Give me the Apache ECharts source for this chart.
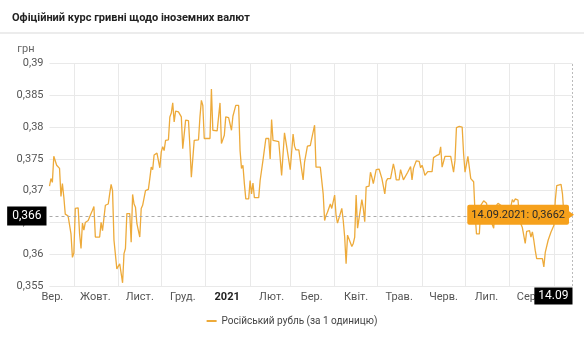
<!DOCTYPE html>
<html><head><meta charset="utf-8">
<script src="https://cdn.jsdelivr.net/npm/echarts@6/dist/echarts.min.js"></script>
<style>html,body{margin:0;padding:0;background:#fff}#c{width:584px;height:350px}</style>
</head><body><div id="c"></div>
<script>
// ---- data ----
const dates = [
'2020-09-14','2020-09-15','2020-09-16','2020-09-17','2020-09-19','2020-09-21','2020-09-22','2020-09-23','2020-09-24','2020-09-25',
'2020-09-27','2020-09-28','2020-09-29','2020-09-30','2020-10-01','2020-10-02','2020-10-04','2020-10-05','2020-10-06','2020-10-07',
'2020-10-08','2020-10-09','2020-10-11','2020-10-13','2020-10-14','2020-10-15','2020-10-16','2020-10-19','2020-10-20','2020-10-21',
'2020-10-23','2020-10-25','2020-10-26','2020-10-27','2020-10-28','2020-10-29','2020-10-31','2020-11-01','2020-11-02','2020-11-04',
'2020-11-05','2020-11-06','2020-11-07','2020-11-09','2020-11-10','2020-11-11','2020-11-12','2020-11-13','2020-11-14','2020-11-15',
'2020-11-16','2020-11-17','2020-11-18','2020-11-20','2020-11-22','2020-11-23','2020-11-24','2020-11-25','2020-11-26','2020-11-28',
'2020-11-29','2020-11-30','2020-12-01','2020-12-02','2020-12-03','2020-12-04','2020-12-06','2020-12-07','2020-12-08','2020-12-09',
'2020-12-10','2020-12-11','2020-12-13','2020-12-15','2020-12-16','2020-12-18','2020-12-20','2020-12-21','2020-12-22','2020-12-24',
'2020-12-27','2020-12-28','2020-12-29','2020-12-30','2020-12-31','2021-01-04','2021-01-05','2021-01-06','2021-01-09','2021-01-11',
'2021-01-12','2021-01-14','2021-01-15','2021-01-17','2021-01-19','2021-01-20','2021-01-22','2021-01-24','2021-01-25','2021-01-26',
'2021-01-27','2021-01-28','2021-01-29','2021-01-31','2021-02-01','2021-02-02','2021-02-03','2021-02-04','2021-02-07','2021-02-08',
'2021-02-09','2021-02-10','2021-02-12','2021-02-14','2021-02-15','2021-02-16','2021-02-17','2021-02-18','2021-02-21','2021-02-23',
'2021-02-25','2021-02-26','2021-02-27','2021-03-01','2021-03-03','2021-03-04','2021-03-05','2021-03-07','2021-03-10','2021-03-11',
'2021-03-12','2021-03-13','2021-03-15','2021-03-16','2021-03-18','2021-03-19','2021-03-22','2021-03-24','2021-03-25','2021-03-26',
'2021-03-27','2021-03-28','2021-03-29','2021-03-30','2021-04-01','2021-04-02','2021-04-03','2021-04-04','2021-04-06','2021-04-07',
'2021-04-08','2021-04-09','2021-04-10','2021-04-11','2021-04-13','2021-04-14','2021-04-15','2021-04-16','2021-04-17','2021-04-18',
'2021-04-20','2021-04-21','2021-04-22','2021-04-23','2021-04-25','2021-04-26','2021-04-27','2021-04-28','2021-04-30','2021-05-02',
'2021-05-04','2021-05-06','2021-05-07','2021-05-08','2021-05-10','2021-05-12','2021-05-13','2021-05-14','2021-05-16','2021-05-17',
'2021-05-19','2021-05-20','2021-05-22','2021-05-23','2021-05-24','2021-05-25','2021-05-26','2021-05-28','2021-05-30','2021-05-31',
'2021-06-01','2021-06-02','2021-06-03','2021-06-05','2021-06-08','2021-06-09','2021-06-11','2021-06-13','2021-06-14','2021-06-15',
'2021-06-16','2021-06-17','2021-06-21','2021-06-23','2021-06-24','2021-06-25','2021-06-27','2021-06-29','2021-06-30','2021-07-01',
'2021-07-03','2021-07-04','2021-07-05','2021-07-07','2021-07-08','2021-07-09','2021-07-11','2021-07-12','2021-07-14','2021-07-16',
'2021-07-18','2021-07-19','2021-07-21','2021-07-22','2021-07-24','2021-07-26','2021-07-28','2021-07-30','2021-08-01','2021-08-03',
'2021-08-04','2021-08-05','2021-08-06','2021-08-07','2021-08-08','2021-08-10','2021-08-11','2021-08-12','2021-08-13','2021-08-15',
'2021-08-16','2021-08-17','2021-08-18','2021-08-19','2021-08-20','2021-08-24','2021-08-25','2021-08-26','2021-08-27','2021-08-28',
'2021-08-30','2021-08-31','2021-09-01','2021-09-02','2021-09-03','2021-09-06','2021-09-07','2021-09-08','2021-09-14'
];
const rates = [
0.3707,0.3719,0.3713,0.3754,0.3740,0.3735,0.3691,0.3711,0.3690,0.3663,
0.3660,0.3657,0.3632,0.3595,0.3602,0.3672,0.3673,0.3632,0.3609,0.3649,
0.3638,0.3650,0.3653,0.3664,0.3669,0.3675,0.3627,0.3627,0.3650,0.3637,
0.3677,0.3679,0.3695,0.3710,0.3700,0.3622,0.3577,0.3577,0.3585,0.3555,
0.3601,0.3609,0.3664,0.3664,0.3619,0.3694,0.3679,0.3674,0.3648,0.3648,
0.3627,0.3672,0.3677,0.3700,0.3702,0.3719,0.3737,0.3733,0.3756,0.3759,
0.3757,0.3736,0.3761,0.3769,0.3763,0.3779,0.3780,0.3816,0.3822,0.3838,
0.3808,0.3825,0.3824,0.3816,0.3766,0.3811,0.3810,0.3769,0.3721,0.3779,
0.3780,0.3816,0.3842,0.3834,0.3782,0.3782,0.3860,0.3795,0.3794,0.3838,
0.3774,0.3787,0.3816,0.3815,0.3795,0.3817,0.3834,0.3834,0.3763,0.3735,
0.3740,0.3711,0.3687,0.3687,0.3716,0.3695,0.3712,0.3689,0.3689,0.3716,
0.3719,0.3748,0.3782,0.3782,0.3750,0.3812,0.3779,0.3777,0.3777,0.3724,
0.3791,0.3777,0.3778,0.3733,0.3789,0.3770,0.3764,0.3764,0.3717,0.3745,
0.3748,0.3770,0.3771,0.3782,0.3803,0.3737,0.3737,0.3695,0.3653,0.3661,
0.3666,0.3667,0.3679,0.3672,0.3693,0.3661,0.3649,0.3649,0.3672,0.3653,
0.3627,0.3585,0.3630,0.3630,0.3612,0.3617,0.3627,0.3693,0.3641,0.3641,
0.3686,0.3672,0.3651,0.3706,0.3707,0.3729,0.3721,0.3711,0.3733,0.3734,
0.3719,0.3695,0.3715,0.3719,0.3719,0.3742,0.3732,0.3717,0.3717,0.3733,
0.3717,0.3720,0.3729,0.3730,0.3738,0.3717,0.3735,0.3747,0.3746,0.3736,
0.3740,0.3733,0.3724,0.3730,0.3730,0.3752,0.3755,0.3757,0.3769,0.3737,
0.3736,0.3754,0.3754,0.3729,0.3748,0.3799,0.3801,0.3800,0.3758,0.3729,
0.3754,0.3754,0.3719,0.3714,0.3664,0.3632,0.3632,0.3677,0.3684,0.3680,
0.3658,0.3658,0.3641,0.3674,0.3680,0.3677,0.3660,0.3660,0.3665,0.3686,
0.3682,0.3687,0.3686,0.3685,0.3653,0.3642,0.3640,0.3617,0.3636,0.3637,
0.3627,0.3635,0.3622,0.3606,0.3593,0.3593,0.3580,0.3603,0.3606,0.3622,
0.3635,0.3637,0.3645,0.3685,0.3708,0.3710,0.3695,0.3662,0.3662
];
const monthLabels = ['2021','Лют.','Бер.','Квіт.','Трав.','Черв.','Лип.','Серп.','Вер.','Жовт.','Лист.','Груд.'];
const yMin = 0.355, yMax = 0.39, yStep = 0.005;
const seriesName = 'Російський рубль (за 1 одиницю)';
const titleText = 'Офіційний курс гривні щодо іноземних валют';
const unitText = 'грн';
const pointerValue = 0.366, pointerText = '0,366';
const lastDateText = '14.09', tipText = '14.09.2021: 0,3662';

// ---- build ----
function parseD(s){const p=s.split('-').map(Number);return new Date(p[0],p[1]-1,p[2]);}
const startD = parseD(dates[0]), endD = parseD(dates[dates.length-1]);
const days = [];
for (let t = new Date(startD); t <= endD; t.setDate(t.getDate()+1)) days.push(new Date(t));
const dayCats = days.map(d => d.getFullYear()+'-'+(d.getMonth()+1)+'-'+d.getDate());
const seriesData = dates.map((d,i)=>[parseD(d).getTime(), rates[i]]);
const lastPoint = seriesData[seriesData.length-1];

const LINE = '#edaa3a', ORANGE = '#f6a11c', GRID = '#e9e9e9', FONT = 'Roboto';

const chart = echarts.init(document.getElementById('c'), null, {renderer:'canvas'});
chart.setOption({
  animation:false,
  textStyle:{fontFamily:FONT},
  title:{text:titleText,left:7,top:8,textStyle:{fontSize:11,fontWeight:'bold',color:'#222',fontFamily:FONT}},
  graphic:[{type:'line',shape:{x1:0,y1:33,x2:584,y2:33},style:{stroke:'#e6e6e6',lineWidth:1.5},silent:true}],
  grid:{left:49.5,right:11.5,top:63.5,bottom:64},
  legend:{bottom:19,left:'center',itemWidth:10,itemHeight:2,itemGap:5,icon:'rect',
    textStyle:{fontSize:10,color:'#444',fontFamily:FONT}},
  xAxis:[
    {type:'time',show:false,min:startD.getTime(),max:endD.getTime()},
    {type:'category',data:dayCats,boundaryGap:false,position:'bottom',
     axisLine:{show:false},axisTick:{show:false},
     splitLine:{show:true,interval:(i)=>days[i].getDate()===1,lineStyle:{color:GRID,width:1}},
     axisLabel:{interval:(i)=>days[i].getDate()===16,margin:6,color:'#555',fontSize:11,fontFamily:FONT,
       formatter:(v,i)=>{const m=days[i].getMonth();return m===0?'{b|'+monthLabels[0]+'}':monthLabels[m];},
       rich:{b:{fontWeight:'bold',color:'#222',fontSize:11,fontFamily:FONT}}}}
  ],
  yAxis:{type:'value',min:yMin,max:yMax,interval:yStep,
    name:unitText,nameLocation:'end',nameGap:9,
    nameTextStyle:{align:'right',padding:[0,15,0,0],color:'#666',fontSize:11,fontFamily:FONT},
    axisLine:{show:false},axisTick:{show:false},
    axisLabel:{margin:6,color:'#555',fontSize:11,fontFamily:FONT,
      formatter:v=>String(parseFloat(v.toFixed(3))).replace('.',',')},
    splitLine:{lineStyle:{color:GRID,width:1}}},
  series:[{
    name:seriesName,type:'line',xAxisIndex:0,data:seriesData,showSymbol:false,symbol:'none',
    lineStyle:{color:LINE,width:1.3},itemStyle:{color:LINE},
    markLine:{silent:true,symbol:['none','none'],animation:false,
      data:[
        [{coord:[startD.getTime(),pointerValue],lineStyle:{color:'#aaa',type:[3,3],width:1},
          label:{show:true,position:'start',distance:3,formatter:pointerText,backgroundColor:'#000',color:'#fff',
            padding:[4,5,3,5],fontSize:12,fontFamily:FONT}},
         {coord:[endD.getTime(),pointerValue]}],
        [{coord:[lastPoint[0],yMin],lineStyle:{color:'#bbb',type:[2,2],width:1},label:{show:false}},
         {coord:[lastPoint[0],yMax]}]
      ]},
    markPoint:{silent:true,animation:false,
      data:[
        {coord:lastPoint,symbol:'triangle',symbolSize:[7,5],symbolRotate:-90,symbolOffset:[-1,0],
          itemStyle:{color:ORANGE},
          label:{show:true,position:'left',distance:0,formatter:tipText,backgroundColor:ORANGE,color:'#2a2a2a',
            padding:[5,4,4,4],borderRadius:2,fontSize:11,fontFamily:FONT}},
        {coord:[lastPoint[0],yMin],symbol:'circle',symbolSize:0,
          label:{show:true,position:'left',distance:0,offset:[0,10],formatter:lastDateText,backgroundColor:'#000',color:'#fff',
            padding:[3,4,2,4],fontSize:12,fontFamily:FONT}}
      ]}
  }]
});
</script></body></html>
